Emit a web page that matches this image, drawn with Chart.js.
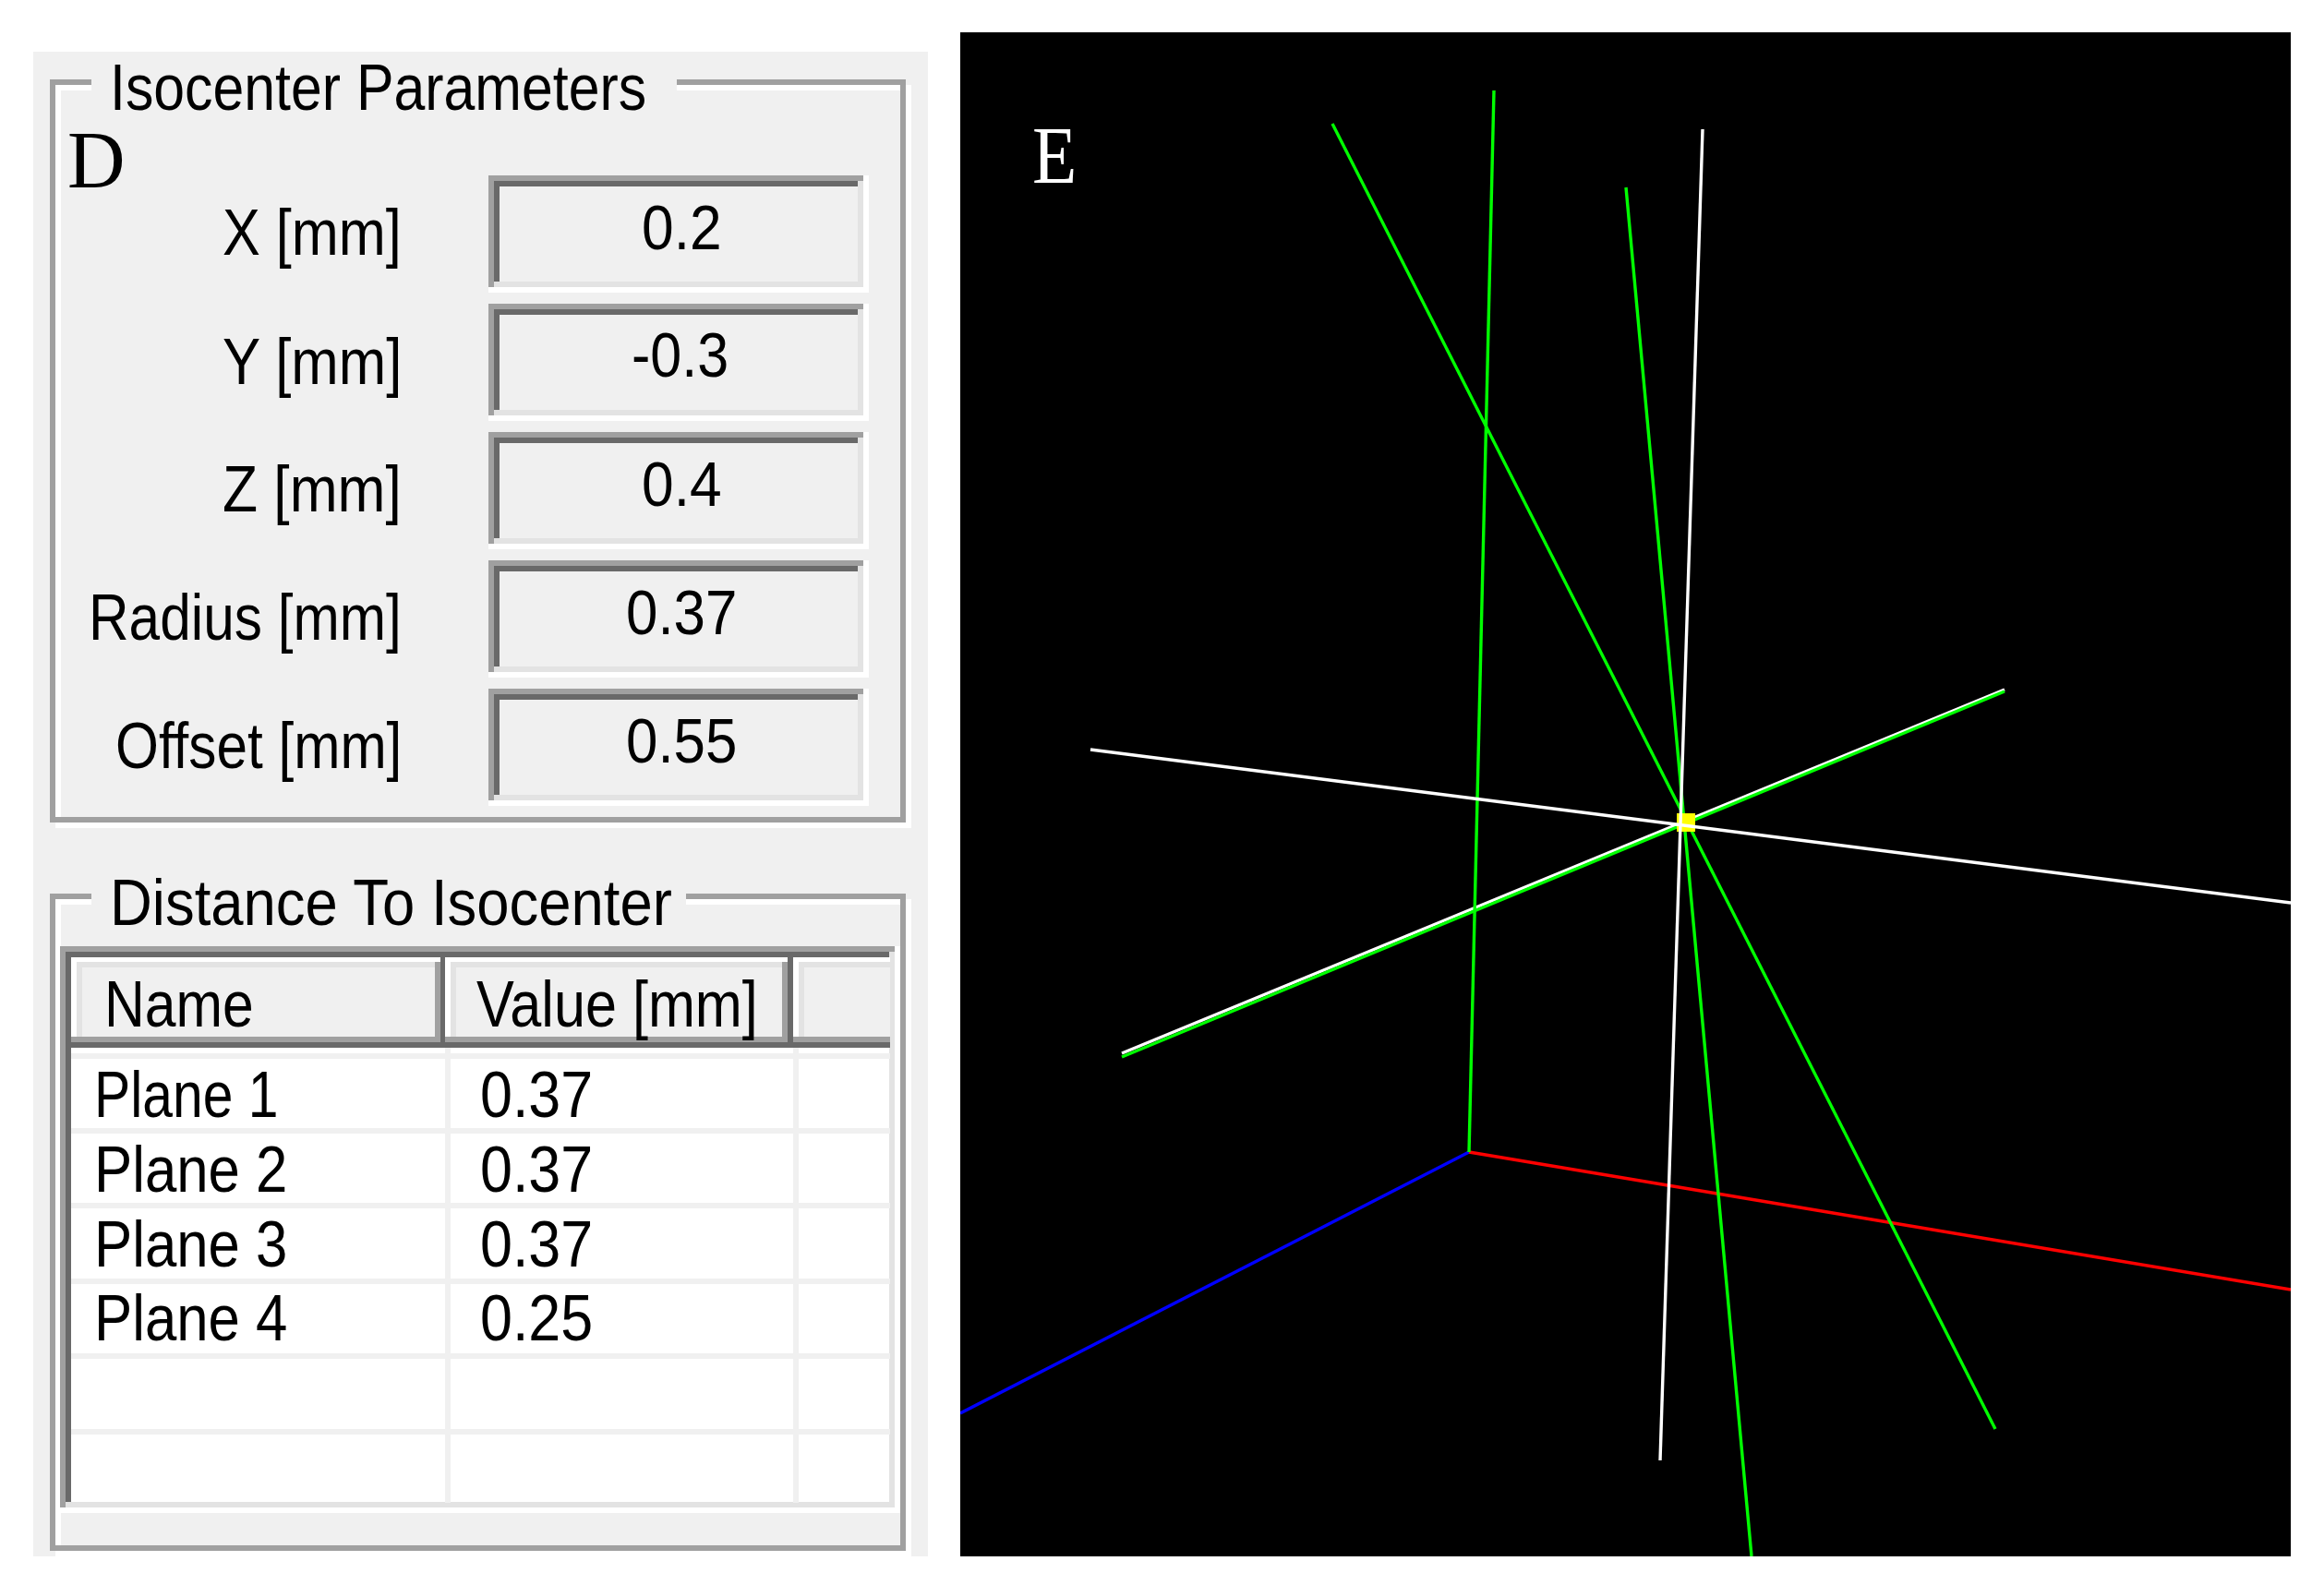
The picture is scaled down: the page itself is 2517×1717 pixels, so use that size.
<!DOCTYPE html>
<html>
<head>
<meta charset="utf-8">
<title>Isocenter</title>
<script src="https://cdn.jsdelivr.net/npm/chart.js@4"></script>
<style>
    html, body { margin: 0; padding: 0; background: #fff; }
    #page { position: relative; width: 2517px; height: 1717px; overflow: hidden; }
    #page div { position: absolute; box-sizing: border-box; }
    .txt { position: absolute; white-space: pre; line-height: 1; color: #000; transform-origin: 0 0; font-family: "Liberation Sans", sans-serif; }
    #sceneBox { position: absolute; left: 1040px; top: 35px; width: 1441px; height: 1651px; background: #000; }
</style>
</head>
<body>
<div id="page">
    <div id="sceneBox"><canvas id="scene" width="1441" height="1651"></canvas></div>
</div>
<script>
// values read from the dialog
const fieldLabels = ['X [mm]', 'Y [mm]', 'Z [mm]', 'Radius [mm]', 'Offset [mm]'];
const fieldValues = ['0.2', '-0.3', '0.4', '0.37', '0.55'];
const listHeaders = ['Name', 'Value [mm]'];
const planeNames = ['Plane 1', 'Plane 2', 'Plane 3', 'Plane 4'];
const planeValues = ['0.37', '0.37', '0.37', '0.25'];

// scene lines, in picture units of the black panel
const axisX = [{x: 551, y: 1213}, {x: 1441, y: 1362}];
const axisY = [{x: 551, y: 1213}, {x: 578, y: 63}];
const axisZ = [{x: 551, y: 1213}, {x: 0, y: 1496}];
const greenDiagonal = [{x: 403, y: 99}, {x: 1121, y: 1513}];
const greenSteep = [{x: 721, y: 168}, {x: 857, y: 1651}];
const greenOblique = [{x: 175, y: 1110}, {x: 1131, y: 714}];
const whiteOblique = [{x: 175, y: 1106}, {x: 1131, y: 712}];
const whiteSteep = [{x: 804, y: 105}, {x: 758, y: 1547}];
const whiteFlat = [{x: 141, y: 777}, {x: 1441, y: 943}];
const isocenter = [{x: 786, y: 856}];

const page = document.getElementById('page');

function box(x, y, w, h, color) {
    const d = document.createElement('div');
    d.style.cssText = `left:${x}px;top:${y}px;width:${w}px;height:${h}px;background:${color};`;
    page.appendChild(d);
    return d;
}

// text placed by baseline and squeezed to the measured width
function text(str, x, baseline, width, size, family, color) {
    const s = document.createElement('span');
    s.className = 'txt';
    s.textContent = str;
    s.style.fontSize = size + 'px';
    if (family) s.style.fontFamily = family;
    if (color) s.style.color = color;
    s.style.left = x + 'px';
    s.style.top = (baseline - 0.8465 * size) + 'px';
    page.appendChild(s);
    s.style.transform = `scaleX(${width / s.offsetWidth})`;
}

// etched group frame with a gap for the title
function groupBox(x, y, w, h, gapX, gapW) {
    const white = box(x + 6, y + 6, w, h, 'transparent');
    white.style.border = '6px solid #fff';
    const gray = box(x, y, w, h, 'transparent');
    gray.style.border = '6px solid #a0a0a0';
    box(gapX, y - 2, gapW, 16, '#f0f0f0');
}

// sunken frame used by the edit fields and the list, edges stacked like the old windows ones
function sunken(x, y, w, h, fill) {
    box(x, y, w, h, '#fff');
    box(x, y, w - 6, 6, '#a0a0a0');
    box(x, y, 6, h - 6, '#a0a0a0');
    box(x + 6, y + 6, w - 12, h - 12, '#e3e3e3');
    box(x + 6, y + 6, w - 18, 6, '#696969');
    box(x + 6, y + 6, 6, h - 18, '#696969');
    box(x + 12, y + 12, w - 24, h - 24, fill);
}

// raised header cell of the list
function headerCell(x, w) {
    box(x, 1037, w, 86, '#fff');
    box(x + 6, 1042, w - 6, 81, '#e3e3e3');
    box(x + 12, 1048, w - 12, 75, '#f0f0f0');
}

function drawDialog() {
    box(36, 56, 969, 1630, '#f0f0f0');

    groupBox(54, 86, 927, 805, 99, 634);
    text('Isocenter Parameters', 119, 119, 581, 70);
    text('D', 73, 204, 63, 88, '"Liberation Serif", serif');

    const labelLeft = [241, 241, 241, 96, 125];
    const labelBase = [276, 416, 554, 693, 832];
    const fieldTop = [190, 329, 468, 607, 746];
    const valueLeft = [695, 684, 695, 678, 678];
    const valueWidth = [87, 105, 87, 120, 120];
    const valueBase = [270, 408, 548, 687, 826];
    for (let i = 0; i < fieldLabels.length; i++) {
        text(fieldLabels[i], labelLeft[i], labelBase[i], 435 - labelLeft[i], 70);
        sunken(529, fieldTop[i], 412, 127, '#f0f0f0');
        text(fieldValues[i], valueLeft[i], valueBase[i], valueWidth[i], 68);
    }

    groupBox(54, 968, 927, 712, 99, 644);
    text('Distance To Isocenter', 119, 1002, 609, 70);

    // list control
    sunken(65, 1025, 910, 614, '#fff');

    // header row
    headerCell(77, 394);
    headerCell(482, 365);
    headerCell(859, 105);
    box(471, 1042, 6, 81, '#a0a0a0');
    box(847, 1042, 6, 81, '#a0a0a0');
    box(77, 1123, 887, 6, '#a0a0a0');
    box(77, 1129, 887, 6, '#696969');
    box(477, 1037, 5, 98, '#696969');
    box(853, 1037, 6, 98, '#696969');
    text(listHeaders[0], 113, 1112, 162, 70);
    text(listHeaders[1], 516, 1112, 305, 70);

    // rows
    const rowLines = [1141, 1222, 1303, 1385, 1466, 1548];
    for (let i = 0; i < rowLines.length; i++) {
        box(77, rowLines[i], 887, 6, '#f0f0f0');
    }
    box(482, 1135, 6, 493, '#f0f0f0');
    box(859, 1135, 6, 493, '#f0f0f0');

    const rowBase = [1210, 1291, 1372, 1452];
    const nameWidth = [199, 209, 209, 209];
    for (let i = 0; i < planeNames.length; i++) {
        text(planeNames[i], 102, rowBase[i], nameWidth[i], 70);
        text(planeValues[i], 520, rowBase[i], 122, 70);
    }
}

function lineSet(data, color) {
    return {
        data: data,
        showLine: true,
        borderColor: color,
        borderWidth: 3.4,
        pointRadius: 0,
        fill: false
    };
}

function drawScene() {
    const ctx = document.getElementById('scene').getContext('2d');

    // first dataset ends up on top
    new Chart(ctx, {
        type: 'scatter',
        data: {
            datasets: [
                lineSet(whiteSteep, '#ffffff'),
                lineSet(whiteFlat, '#ffffff'),
                {
                    data: isocenter,
                    backgroundColor: '#ffff00',
                    borderWidth: 0,
                    pointStyle: 'rect',
                    pointRadius: 14.1
                },
                lineSet(axisY, '#00ff00'),
                lineSet(greenDiagonal, '#00ff00'),
                lineSet(greenSteep, '#00ff00'),
                lineSet(greenOblique, '#00ff00'),
                lineSet(whiteOblique, '#ffffff'),
                lineSet(axisX, '#ff0000'),
                lineSet(axisZ, '#0000ff')
            ]
        },
        options: {
            responsive: false,
            animation: false,
            devicePixelRatio: 1,
            layout: { padding: 0, autoPadding: false },
            plugins: { legend: { display: false }, tooltip: { enabled: false } },
            scales: {
                x: { type: 'linear', display: false, min: 0, max: 1441 },
                y: { type: 'linear', display: false, min: 0, max: 1651, reverse: true }
            }
        }
    });
}

drawDialog();
drawScene();
text('E', 1118, 199, 48, 89, '"Liberation Serif", serif', '#fff');
</script>
</body>
</html>
